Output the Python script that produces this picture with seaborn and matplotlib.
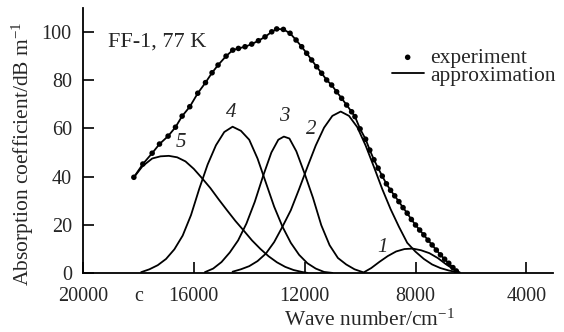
import numpy as np
import pandas as pd
import seaborn as sns
import matplotlib.pyplot as plt

# experiment points (wave number, absorption)
exp_wn = [18162, 17838, 17502, 17237, 16926, 16660, 16420, 16144, 15856, 15578,
          15340, 15124, 14835, 14594, 14389, 14150, 13909, 13668, 13430, 13188,
          13008, 12767, 12527, 12310, 12107, 11927, 11747, 11566, 11386, 11206,
          11026, 10846, 10666, 10485, 10305, 10185, 10000, 9800, 9650, 9500,
          9350, 9200, 9050, 8900, 8750, 8600, 8450, 8300, 8150, 8000,
          7850, 7700, 7550, 7400, 7250, 7100, 6950, 6800, 6650, 6530]
exp_ab = [39.7, 45.2, 49.7, 53.5, 56.8, 60.5, 65.1, 69.0, 74.6, 79.0,
          83.1, 86.3, 90.0, 92.5, 93.2, 93.9, 95.0, 96.4, 98.0, 100.1,
          101.3, 101.1, 99.5, 96.7, 93.9, 91.2, 88.4, 85.6, 82.9, 80.1,
          78.0, 75.2, 72.5, 69.7, 66.9, 64.9, 59.8, 55.5, 51.0, 47.0,
          43.5, 40.2, 37.0, 34.3, 32.0, 29.6, 27.1, 24.8, 22.2, 19.9,
          17.8, 15.8, 13.6, 11.6, 9.5, 7.5, 5.7, 4.0, 2.2, 0.8]

# component bands
c1_wn = [9900, 9600, 9300, 9000, 8700, 8400, 8100, 7800, 7500, 7200, 6900, 6600, 6400]
c1_ab = [0.0, 2.0, 4.6, 7.0, 8.9, 9.9, 10.1, 9.4, 8.2, 6.2, 3.6, 1.3, 0.2]

c2_wn = [14600, 14300, 14000, 13700, 13400, 13100, 12800, 12500, 12200, 11900,
         11600, 11300, 11000, 10700, 10400, 10100, 9800, 9500, 9200, 8900,
         8600, 8300, 8000, 7700, 7400, 7100, 6800, 6500]
c2_ab = [0.5, 1.5, 2.8, 4.9, 8.0, 12.8, 19.2, 26.0, 34.8, 44.0,
         52.9, 60.3, 65.2, 67.0, 65.2, 60.5, 52.9, 44.0, 34.8, 26.5,
         19.2, 12.5, 8.8, 5.8, 3.5, 2.0, 1.0, 0.3]

c3_wn = [15600, 15300, 15000, 14700, 14400, 14100, 13800, 13500, 13200, 12950,
         12750, 12550, 12300, 12000, 11700, 11400, 11100, 10800, 10500, 10200, 9900]
c3_ab = [0.3, 1.8, 4.5, 8.5, 13.5, 20.5, 29.5, 40.2, 50.0, 55.3,
         56.6, 55.8, 50.5, 41.2, 31.2, 19.8, 11.5, 6.2, 3.5, 1.5, 0.3]

c4_wn = [17900, 17600, 17300, 17000, 16700, 16400, 16100, 15800, 15500, 15200,
         14900, 14600, 14300, 14000, 13700, 13400, 13100, 12800, 12500, 12200,
         11900, 11600, 11300, 11000]
c4_ab = [0.3, 1.5, 3.2, 5.8, 9.8, 15.5, 24.0, 35.0, 45.0, 53.0,
         58.5, 60.7, 59.0, 55.3, 47.5, 37.5, 27.5, 19.2, 12.5, 7.5,
         4.0, 1.8, 0.4, 0.0]

c5_wn = [18160, 17850, 17500, 17200, 16900, 16600, 16300, 16000, 15700, 15400,
         15100, 14800, 14500, 14200, 13900, 13600, 13300, 13000, 12700, 12400,
         12100, 11900]
c5_ab = [39.7, 44.3, 47.5, 48.4, 48.6, 48.0, 46.3, 43.2, 39.3, 35.2,
         30.5, 26.0, 21.6, 17.6, 13.5, 10.0, 6.9, 4.4, 2.5, 1.2,
         0.4, 0.0]

band_names = ['1', '2', '3', '4', '5']
band_label_pos = [(9200, 10.5), (11780, 59.5), (12745, 65), (14666, 66.5), (16470, 54)]

xtick_pos = [20000, 18000, 16000, 12000, 8000, 4000]
xtick_lab = ['20000', 'c', '16000', '12000', '8000', '4000']
ytick_pos = [0, 20, 40, 60, 80, 100]

sns.set_style('ticks')
plt.rcParams['font.family'] = ['Liberation Serif', 'DejaVu Serif']
plt.rcParams['mathtext.fontset'] = 'custom'
plt.rcParams['mathtext.rm'] = 'Liberation Serif'
plt.rcParams['mathtext.it'] = 'Liberation Serif:italic'

fig = plt.figure(figsize=(5.64, 3.32), dpi=100)
ax = fig.add_axes([0.147, 0.178, 0.833, 0.798])

exp_df = pd.DataFrame({'wn': exp_wn, 'ab': exp_ab})
bands = pd.concat([
    pd.DataFrame({'wn': w, 'ab': a, 'band': n})
    for n, w, a in zip(band_names, [c1_wn, c2_wn, c3_wn, c4_wn, c5_wn],
                       [c1_ab, c2_ab, c3_ab, c4_ab, c5_ab])
])

sns.lineplot(data=bands, x='wn', y='ab', units='band', estimator=None, sort=False,
             color='black', lw=1.3, ax=ax, legend=False)
sns.lineplot(data=exp_df, x='wn', y='ab', color='black', lw=1.3, sort=False,
             ax=ax, label='approximation')
sns.scatterplot(data=exp_df, x='wn', y='ab', color='black', s=16, edgecolor='none',
                ax=ax, label='experiment', zorder=3)

for n, (bx, by) in zip(band_names, band_label_pos):
    ax.text(bx, by, n, fontsize=15, style='italic', ha='center', va='center')

ax.text(0.053, 0.872, 'FF-1, 77 K', transform=ax.transAxes, fontsize=16, va='center')

ax.set_xlim(20000, 3050)
ax.set_ylim(0, 110)
ax.set_xticks(xtick_pos)
ax.set_xticklabels(xtick_lab)
ax.set_yticks(ytick_pos)
ax.xaxis.get_major_ticks()[1].tick1line.set_visible(False)
ax.tick_params(axis='both', direction='in', length=8, width=1.2, labelsize=14.5, color='black')
ax.tick_params(axis='x', pad=10)
ax.tick_params(axis='y', pad=8)
sns.despine(ax=ax)
for s in ['left', 'bottom']:
    ax.spines[s].set_linewidth(1.3)
    ax.spines[s].set_color('black')

ax.set_xlabel('Wave number/cm$^{-1}$', fontsize=15.5)
ax.xaxis.set_label_coords(0.61, -0.14)
ax.set_ylabel('Absorption coefficient/dB m$^{-1}$', fontsize=15.5)
ax.yaxis.set_label_coords(-0.10, 0.45)

h, l = ax.get_legend_handles_labels()
ax.legend([h[1], h[0]], [l[1], l[0]], loc='upper left', bbox_to_anchor=(0.634, 0.89),
          frameon=False, fontsize=15.5, handlelength=1.5, handletextpad=0.3,
          labelspacing=-0.1, borderpad=0, scatterpoints=1)

fig.savefig('out.png', dpi=100)
